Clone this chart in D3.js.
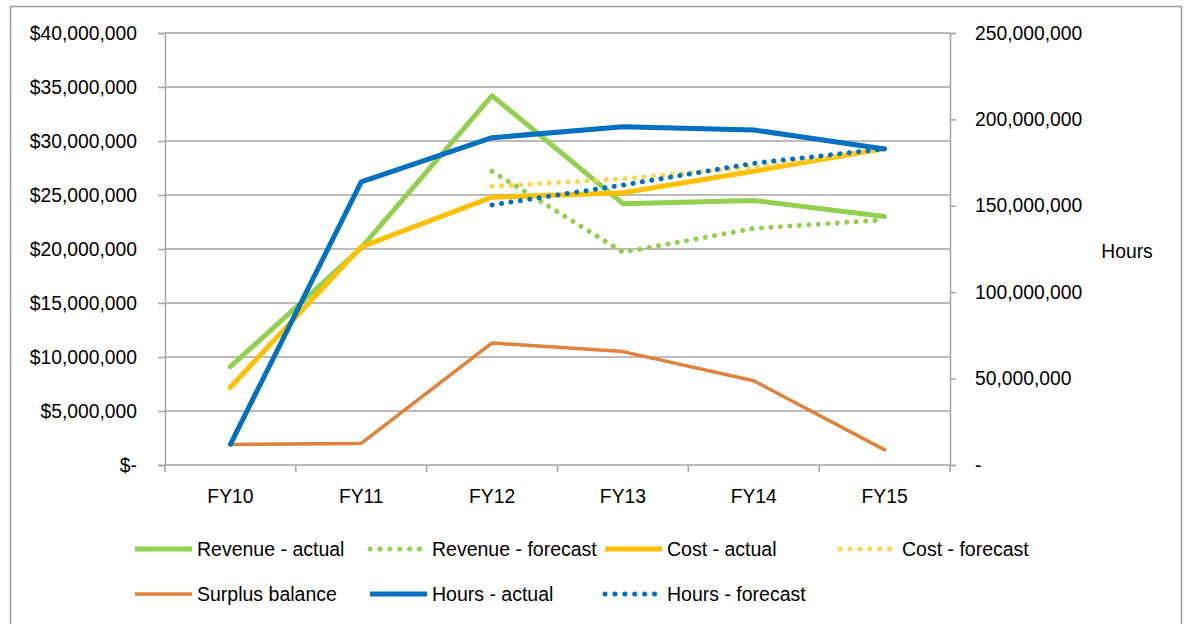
<!DOCTYPE html>
<html><head><meta charset="utf-8">
<script src="https://cdn.jsdelivr.net/npm/d3@7"></script>
<style>body{margin:0;background:#fff}svg{display:block}text{font-family:"Liberation Sans",Arial,sans-serif;fill:#000}</style>
</head><body><svg id="c" width="1189" height="624"></svg>
<script>
const categories = ["FY10","FY11","FY12","FY13","FY14","FY15"];
const revenueActual   = [9.1e6, 20.1e6, 34.2e6, 24.2e6, 24.5e6, 23.0e6];
const revenueForecast = [null, null, 27.2e6, 19.7e6, 21.9e6, 22.7e6];
const costActual      = [7.2e6, 20.2e6, 24.8e6, 25.2e6, 27.2e6, 29.3e6];
const costForecast    = [null, null, 25.8e6, 26.5e6, 27.6e6, 29.3e6];
const surplusBalance  = [1.9e6, 2.0e6, 11.3e6, 10.5e6, 7.8e6, 1.4e6];
const hoursActual     = [12.0e6, 163.8e6, 189.4e6, 195.8e6, 193.9e6, 182.9e6];
const hoursForecast   = [null, null, 150.5e6, 162.0e6, 174.6e6, 182.9e6];
const leftTicks  = [0,5e6,10e6,15e6,20e6,25e6,30e6,35e6,40e6];
const rightTicks = [0,50e6,100e6,150e6,200e6,250e6];

const svg = d3.select("#c");
const L=165, R=950, T=33, B=465;
const FS=19.3;
svg.append("rect").attr("x",10.5).attr("y",6.5).attr("width",1171).attr("height",640)
  .attr("fill","#fff").attr("stroke","#9a9a9a").attr("stroke-width",1.5);

const x = d3.scaleBand().domain(categories).range([L,R]);
const yL = d3.scaleLinear().domain([0,40e6]).range([B,T]);
const yR = d3.scaleLinear().domain([0,250e6]).range([B,T]);
const gridC="#a6a6a6";

svg.append("g").selectAll("line").data(leftTicks.filter(d=>d>0)).join("line")
  .attr("x1",L).attr("x2",R).attr("y1",d=>yL(d)).attr("y2",d=>yL(d))
  .attr("stroke",gridC).attr("stroke-width",1.5);

const fmtL = d => d===0 ? "$-" : "$" + d3.format(",")(d);
const fmtR = d => d===0 ? "-" : d3.format(",")(d);

const axL = svg.append("g").attr("transform",`translate(${L},0)`)
  .call(d3.axisLeft(yL).tickValues(leftTicks).tickFormat(fmtL).tickSize(7).tickPadding(21));
const axR = svg.append("g").attr("transform",`translate(${R},0)`)
  .call(d3.axisRight(yR).tickValues(rightTicks).tickFormat(fmtR).tickSize(6).tickPadding(19));
const axX = svg.append("g").attr("transform",`translate(0,${B})`)
  .call(d3.axisBottom(x).tickSize(0).tickPadding(24));
svg.append("g").selectAll("line").data(d3.range(categories.length+1)).join("line")
  .attr("x1",i=>L+i*x.step()).attr("x2",i=>L+i*x.step()).attr("y1",B).attr("y2",B+7)
  .attr("stroke",gridC).attr("stroke-width",1.5);
[axL,axR,axX].forEach(a=>{
  a.selectAll("path.domain").attr("stroke",gridC).attr("stroke-width",1.5);
  a.selectAll(".tick line").attr("stroke",gridC).attr("stroke-width",1.5);
  a.selectAll("text").attr("font-size",FS).attr("font-family","Liberation Sans, Arial, sans-serif").attr("fill","#000");
});
axX.select("path.domain").attr("d",`M${L},0H${R}`);

svg.append("text").attr("x",1127).attr("y",258).attr("text-anchor","middle").attr("font-size",FS).text("Hours");

const cx = d => x(d)+x.bandwidth()/2;
function draw(vals, yScale, color, width, dotted){
  const line = d3.line().defined(d=>d.v!=null).x(d=>cx(d.c)).y(d=>yScale(d.v));
  const data = categories.map((c,i)=>({c, v:vals[i]}));
  const p = svg.append("path").datum(data).attr("d",line).attr("fill","none")
    .attr("stroke",color).attr("stroke-width",width)
    .attr("stroke-linejoin","round").attr("stroke-linecap","round");
  if(dotted) p.attr("stroke-dasharray","0.1 9.4");
}
const cG="#92D050", cY="#FFC000", cYf="#FFD54F", cO="#E0823C", cB="#0070C0";
draw(revenueActual, yL, cG, 5, false);
draw(revenueForecast, yL, cG, 5, true);
draw(costActual, yL, cY, 5, false);
draw(costForecast, yL, cYf, 5, true);
draw(surplusBalance, yL, cO, 3.5, false);
draw(hoursActual, yR, cB, 5, false);
draw(hoursForecast, yR, cB, 5, true);

const legend = [
  {n:"Revenue - actual", c:cG, w:5, d:false, x:135, y:549},
  {n:"Revenue - forecast", c:cG, w:5, d:true, x:368, y:549},
  {n:"Cost - actual", c:cY, w:5, d:false, x:605, y:549},
  {n:"Cost - forecast", c:cYf, w:5, d:true, x:838, y:549},
  {n:"Surplus balance", c:cO, w:3.5, d:false, x:135, y:594},
  {n:"Hours - actual", c:cB, w:5, d:false, x:370, y:594},
  {n:"Hours - forecast", c:cB, w:5, d:true, x:603, y:594},
];
const lg = svg.append("g").selectAll("g").data(legend).join("g");
lg.append("line").attr("x1",d=>d.d?d.x+2:d.x).attr("x2",d=>d.d?d.x+52:d.x+57)
  .attr("y1",d=>d.y).attr("y2",d=>d.y).attr("stroke",d=>d.c).attr("stroke-width",d=>d.w)
  .attr("stroke-linecap",d=>d.d?"round":"butt").attr("stroke-dasharray",d=>d.d?"0.1 9.8":null);
lg.append("text").attr("x",d=>d.d?d.x+64:d.x+62).attr("y",d=>d.y+7).attr("font-size",19.5).text(d=>d.n);
</script></body></html>
